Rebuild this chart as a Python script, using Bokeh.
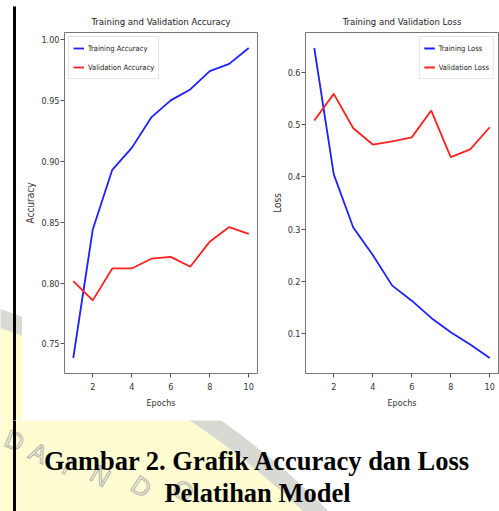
import math
from bokeh.plotting import figure
from bokeh.layouts import column, row
from bokeh.models import Range1d, FixedTicker, NumeralTickFormatter, Legend, LegendItem, Text
from bokeh.core.properties import value
from bokeh.embed import file_html
from bokeh.resources import INLINE

# ---------------- data ----------------
epochs = [1, 2, 3, 4, 5, 6, 7, 8, 9, 10]
train_acc = [0.7385, 0.844, 0.893, 0.911, 0.936, 0.950, 0.959, 0.974, 0.980, 0.993]
val_acc = [0.8016, 0.7858, 0.812, 0.812, 0.820, 0.8215, 0.8134, 0.834, 0.846, 0.8404]
train_loss = [0.6465, 0.4046, 0.303, 0.2505, 0.1918, 0.163, 0.130, 0.1025, 0.079, 0.0533]
val_loss = [0.5077, 0.5587, 0.493, 0.4618, 0.468, 0.4755, 0.5268, 0.4377, 0.4524, 0.4948]
epoch_ticks = [2, 4, 6, 8, 10]
acc_ticks = [0.75, 0.80, 0.85, 0.90, 0.95, 1.00]
loss_ticks = [0.1, 0.2, 0.3, 0.4, 0.5, 0.6]
acc_title = "Training and Validation Accuracy"
loss_title = "Training and Validation Loss"
acc_labels = ["Training Accuracy", "Validation Accuracy"]
loss_labels = ["Training Loss", "Validation Loss"]
x_label = "Epochs"
acc_ylabel = "Accuracy"
loss_ylabel = "Loss"
caption_lines = ["Gambar 2. Grafik Accuracy dan Loss", "Pelatihan Model"]
watermark_letters = ["D", "A", "I", "N", "D", "O"]

# ---------------- styles ----------------
NARROW = "'DejaVu Sans Condensed', 'DejaVu Sans', sans-serif"
SERIF = "'Liberation Serif', serif"
BLUE = "#1f1fff"
RED = "#ff2020"
YELLOW = "#fffcd2"
RING = "#d9d9d4"
WM_CX, WM_CY, WM_R_IN, WM_R_OUT = -256, 1092, 806, 824
wm_pos = [(14, 440), (38, 452), (67, 465), (100, 475), (141, 486), (183, 490)]


def padded(vals, frac=0.05):
    lo, hi = min(vals), max(vals)
    d = (hi - lo) * frac
    return Range1d(lo - d, hi + d)


def chart(title, width, mb_left, mb_right, series, yticks, yfmt, ylabel, labels, loc):
    p = figure(width=width, height=414, output_backend="svg", toolbar_location=None,
               x_range=padded(epochs), y_range=padded(series[0] + series[1]),
               min_border_left=mb_left, min_border_right=mb_right,
               min_border_top=26, min_border_bottom=47, title=title)
    p.background_fill_color = "white"
    p.border_fill_color = "white"
    p.outline_line_color = "#777777"
    p.outline_line_width = 1
    p.grid.visible = False
    p.title.align = "center"
    p.title.text_font = NARROW
    p.title.text_font_size = "9.5px"
    p.title.text_font_style = "normal"
    p.title.text_color = "#222222"
    p.title.standoff = 11
    p.xaxis.ticker = FixedTicker(ticks=epoch_ticks)
    p.yaxis.ticker = FixedTicker(ticks=yticks)
    p.yaxis.formatter = NumeralTickFormatter(format=yfmt)
    p.axis.axis_line_color = None
    p.axis.minor_tick_line_color = None
    p.axis.major_tick_in = 0
    p.axis.major_tick_out = 4
    p.axis.major_tick_line_color = "#555555"
    p.axis.major_label_text_font = NARROW
    p.axis.major_label_text_font_size = "9px"
    p.axis.major_label_text_color = "#333333"
    p.axis.major_label_standoff = 1
    p.axis.axis_label_text_font = NARROW
    p.axis.axis_label_text_font_style = "normal"
    p.axis.axis_label_text_color = "#333333"
    p.xaxis.axis_label = x_label
    p.xaxis.axis_label_text_font_size = "9px"
    p.xaxis.axis_label_standoff = 5
    p.xaxis.major_label_standoff = 5
    p.yaxis.axis_label = ylabel
    p.yaxis.axis_label_text_font_size = "10px"
    p.yaxis.axis_label_standoff = 2
    r1 = p.line(epochs, series[0], line_color=BLUE, line_width=1.8)
    r2 = p.line(epochs, series[1], line_color=RED, line_width=1.8)
    leg = Legend(items=[LegendItem(label=labels[0], renderers=[r1]),
                        LegendItem(label=labels[1], renderers=[r2])],
                 location=loc, margin=4, padding=4, spacing=5,
                 label_height=14, glyph_height=14, glyph_width=11, label_standoff=4,
                 label_text_font=NARROW, label_text_font_size="7.5px", label_text_color="#222222",
                 border_line_color="#cccccc", border_line_width=1,
                 background_fill_color="white", background_fill_alpha=0.85)
    p.add_layout(leg)
    return p


def blank(width, height, xr, yr, **kw):
    opts = dict(min_border=0)
    opts.update(kw)
    p = figure(width=width, height=height, x_range=Range1d(*xr), y_range=Range1d(*yr),
               output_backend="svg", toolbar_location=None, title=None,
               x_axis_location=None, y_axis_location=None, **opts)
    p.outline_line_color = None
    p.background_fill_color = "white"
    p.border_fill_color = "white"
    p.grid.visible = False
    if "frame_align" in p.properties():
        p.frame_align = False
    return p


outline_ok = "text_outline_color" in Text.properties()


def watermark(p, idx):
    p.circle(x=[WM_CX], y=[WM_CY], radius=WM_R_IN, fill_color=YELLOW, line_color=None)
    p.annulus(x=[WM_CX], y=[WM_CY], inner_radius=WM_R_IN, outer_radius=WM_R_OUT,
              fill_color=RING, line_color=None)
    if not idx:
        return
    xs = [wm_pos[i][0] for i in idx]
    ys = [wm_pos[i][1] for i in idx]
    angs = [-math.atan2(wm_pos[i][0] - WM_CX, WM_CY - wm_pos[i][1]) for i in idx]
    txt = [watermark_letters[i] for i in idx]
    kw = dict(text_font=value("Liberation Sans"), text_font_size="25px",
              text_align="center", text_baseline="middle")
    if outline_ok:
        kw.update(text_color=YELLOW, text_outline_color="#b0b0b0")
    else:
        kw.update(text_color="#d6d6cc")
    p.text(x=xs, y=ys, text=txt, angle=angs, **kw)


acc = chart(acc_title, 246, 35, 11, [train_acc, val_acc], acc_ticks, "0.00",
            acc_ylabel, acc_labels, "top_left")
loss = chart(loss_title, 231, 30, 1, [train_loss, val_loss], loss_ticks, "0.0",
             loss_ylabel, loss_labels, "top_right")

# top border strip (page y 0..6): its black frame is the rule at y 4..6
top = blank(499, 6, (0, 1), (0, 1), min_border_left=13, min_border_top=4,
            min_border_right=0, min_border_bottom=0)
top.background_fill_color = "black"

# left strip beside the charts (page x 0..22, y 6..420)
strip = blank(22, 414, (0, 22), (420, 6))
watermark(strip, [])
strip.quad(left=[13], right=[15], bottom=[420], top=[4], color="black")

# caption band (page y 420..511)
cap = blank(499, 91, (0, 499), (511, 420))
watermark(cap, list(range(len(watermark_letters))))
cap.quad(left=[13], right=[15], bottom=[511], top=[420], color="black")
cap.text(x=[257, 257], y=[460, 492], text=caption_lines, text_font=value(SERIF),
         text_font_style="bold", text_font_size="26.5px", text_align="center",
         text_baseline="alphabetic", text_color="black")

layout = column(top, row(strip, acc, loss), cap)

open("out.html", "w").write(file_html(layout, INLINE))
